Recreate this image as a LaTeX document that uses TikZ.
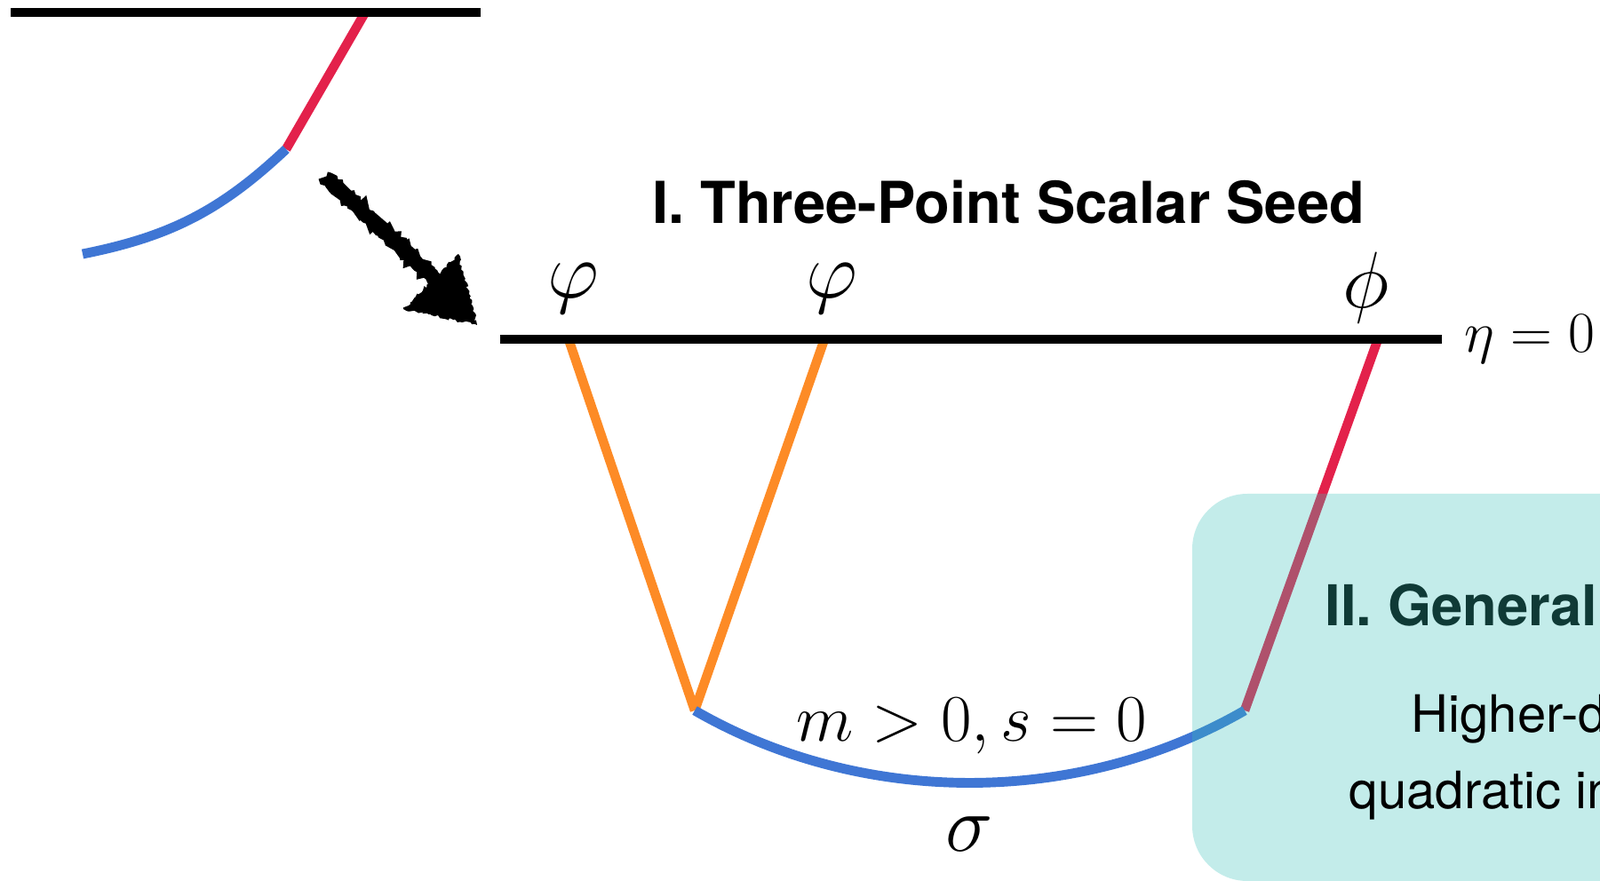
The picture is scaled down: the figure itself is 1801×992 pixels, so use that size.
\documentclass[tikz,border=0pt]{standalone}
\usepackage{fix-cm}
\usepackage{fontspec}
\setsansfont{TeX Gyre Heros}
\usetikzlibrary{decorations.pathmorphing}
\definecolor{legred}{RGB}{227,33,75}
\definecolor{propblue}{RGB}{63,118,212}
\definecolor{extorange}{RGB}{253,139,38}
\definecolor{boxteal}{RGB}{55,192,185}
\definecolor{darkteal}{RGB}{15,58,54}

\begin{document}
\begin{tikzpicture}[x=0.01cm, y=-0.01cm,
  wall/.style={line width=3pt, black},
  leg/.style={line width=3pt},
  prop/.style={line width=3.1pt, propblue},
  mathlbl/.style={inner sep=0pt, anchor=base, font=\fontsize{25.6}{30}\selectfont},
  heading/.style={inner sep=0pt, anchor=base, font=\sffamily\bfseries\fontsize{18.5}{22}\selectfont},
  boxtext/.style={inner sep=0pt, anchor=base west, font=\sffamily\fontsize{16.5}{19}\selectfont},
  scribble/.style={black, decorate, decoration={random steps, segment length=0.8pt, amplitude=0.5pt}},
]
  \useasboundingbox (0,0) rectangle (1801,992);
  \clip (0,0) rectangle (1801,992);

  % previous diagram, top left
  \coordinate (oldL) at (12,14);
  \coordinate (oldR) at (541,14);
  \coordinate (oldtop) at (411,14);
  \coordinate (oldkink) at (322,168);
  \coordinate (oldend) at (93,286);
  \draw[leg, legred] (oldtop) -- (oldkink);
  \draw[prop] (oldend) to[bend right=16] (oldkink);
  \draw[wall] (oldL) -- (oldR);

  % hand drawn arrow
  \coordinate (atail) at (366,199);
  \coordinate (aneck) at (492,316);
  \coordinate (atip) at (537,366);
  \coordinate (awingL) at (454,348);
  \coordinate (awingR) at (516,286);
  \draw[scribble, line width=4.5pt] (atail) -- (aneck);
  \fill[scribble] (awingL) -- (awingR) -- (atip) -- cycle;

  % three-point seed
  \coordinate (bL) at (563,382);
  \coordinate (bR) at (1623,382);
  \coordinate (p1) at (640,382);
  \coordinate (p2) at (928,382);
  \coordinate (p3) at (1551,382);
  \coordinate (v1) at (782,800);
  \coordinate (v2) at (1401,800);

  \draw[leg, extorange] (p1) -- (v1);
  \draw[leg, extorange] (p2) -- (v1);
  \draw[leg, legred] (p3) -- (v2);
  \draw[prop] (v1) to[bend right=30, looseness=0.9] (v2);
  \draw[wall] (bL) -- (bR);

  \node[heading] (title) at (1135,252) {I. Three-Point Scalar Seed};
  \node[mathlbl] (f1) at (645,336) {$\varphi$};
  \node[mathlbl] (f2) at (936,336) {$\varphi$};
  \node[mathlbl] (f3) at (1538,347) {$\phi$};
  \node[mathlbl, anchor=base west, font=\fontsize{18.5}{22}\selectfont] (eta) at (1648,397) {$\eta = 0$};
  \node[mathlbl, font=\fontsize{21.3}{25}\selectfont] (mass) at (1094,834) {$m > 0, s = 0$};
  \node[mathlbl] (sig) at (1091,958) {$\sigma$};

  % second stage box
  \fill[boxteal, fill opacity=0.3, rounded corners=0.62cm] (1342,556) rectangle (1900,992);
  \node[heading, anchor=base west, text=darkteal, font=\sffamily\bfseries\fontsize{18}{22}\selectfont] (gen) at (1491,705) {II. General};
  \node[boxtext] (hd) at (1588,824) {Higher-d};
  \node[boxtext] (qi) at (1518,910) {quadratic in};
\end{tikzpicture}
\end{document}
